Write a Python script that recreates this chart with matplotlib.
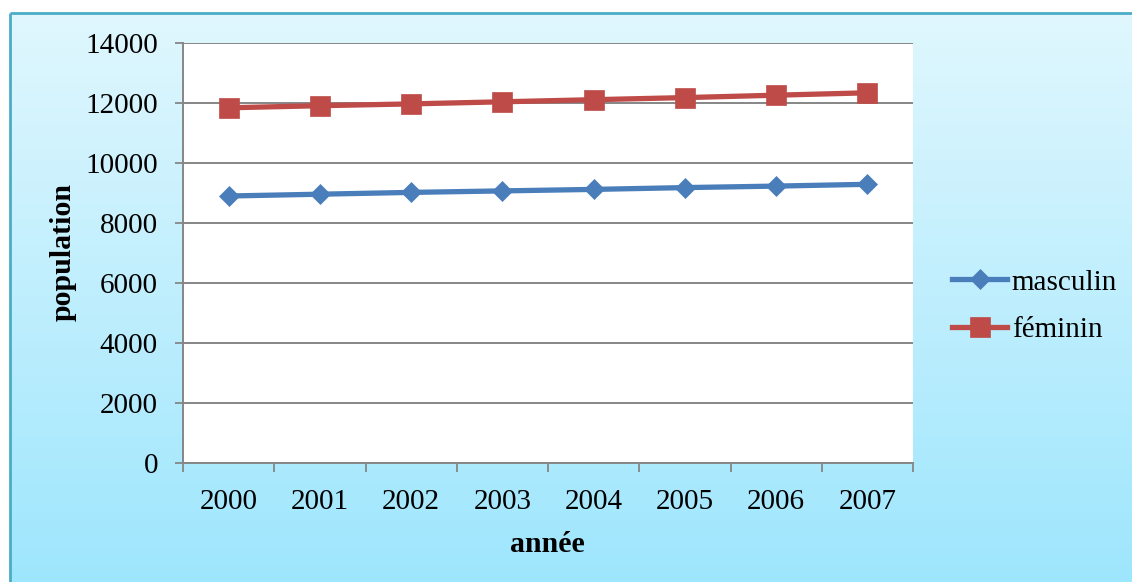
import numpy as np
import matplotlib
matplotlib.use("Agg")
import matplotlib.pyplot as plt

years = ["2000", "2001", "2002", "2003", "2004", "2005", "2006", "2007"]
masculin = [8900, 8960, 9020, 9070, 9120, 9180, 9230, 9290]
feminin = [11840, 11910, 11970, 12040, 12110, 12180, 12260, 12340]
yticks = [0, 2000, 4000, 6000, 8000, 10000, 12000, 14000]

plt.rcParams['font.family'] = ['Liberation Serif', 'DejaVu Serif']

W, H = 1132, 582
fig = plt.figure(figsize=(W / 100, H / 100), dpi=100)

# background gradient
bg = fig.add_axes([0, 0, 1, 1], zorder=-10)
bg.set_xlim(0, W)
bg.set_ylim(H, 0)
bg.axis('off')
top = np.array([0xE0, 0xF7, 0xFE]) / 255
bot = np.array([0x9E, 0xE6, 0xFD]) / 255
t = np.linspace(0, 1, 256)[:, None]
grad = (top[None, :] * (1 - t) + bot[None, :] * t)[:, None, :]
bg.imshow(grad, extent=[10, W, H, 13], aspect='auto', interpolation='bilinear')
bg.plot([10, W], [13, 13], color='#4BACC6', lw=2, solid_capstyle='butt')
bg.plot([10, 10], [13, H], color='#4BACC6', lw=2, solid_capstyle='butt')

gray = '#868686'
fs = 21
ax = fig.add_axes([183 / W, (H - 463) / H, 730 / W, 420 / H])
ax.set_facecolor('white')
x = np.arange(len(years))
ax.plot(x, masculin, color='#4A7EBB', lw=3.8, marker='D', ms=10.5,
        mec='#4A7EBB', mew=0.5, label='masculin', zorder=3)
ax.plot(x, feminin, color='#BE4B48', lw=3.8, marker='s', ms=14,
        mec='#BE4B48', mew=0.5, label='féminin', zorder=3)

ax.set_xlim(-0.5, len(years) - 0.5)
ax.set_ylim(0, 14000)
ax.set_yticks(yticks)
ax.set_yticklabels([str(v) for v in yticks])
ax.set_xticks(np.arange(-0.5, len(years), 1.0))
ax.set_xticklabels([])
ax.set_xticks(x, minor=True)
ax.set_xticklabels(years, minor=True)
ax.tick_params(axis='x', which='major', length=6.5, width=1.3, color=gray, direction='out')
ax.tick_params(axis='x', which='minor', length=0, pad=18.5, labelsize=fs)
ax.tick_params(axis='y', length=6, width=1.3, color=gray, direction='out', pad=12, labelsize=fs)
ax.grid(axis='y', color=gray, lw=1.4)
ax.set_axisbelow(True)
for s in ['top', 'right']:
    ax.spines[s].set_visible(False)
for s in ['left', 'bottom']:
    ax.spines[s].set_color(gray)
    ax.spines[s].set_linewidth(1.4)

fig.text(547 / W, 1 - 545 / H, 'année', ha='center', va='center',
         fontsize=21.5, fontweight='bold')
fig.text(63.5 / W, 1 - 252 / H, 'population', ha='center', va='center',
         fontsize=21.5, fontweight='bold', rotation=90)

handles, labels = ax.get_legend_handles_labels()
fig.legend(handles, labels, loc='center left',
           bbox_to_anchor=(952 / W, 1 - 306 / H), frameon=False,
           fontsize=fs, handlelength=1.9, handletextpad=0.15,
           labelspacing=0.71, borderpad=0, borderaxespad=0)

fig.savefig('out.png', dpi=100)
